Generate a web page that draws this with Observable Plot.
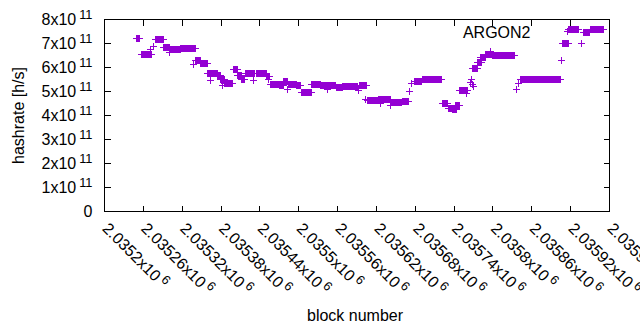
<!DOCTYPE html>
<html><head><meta charset="utf-8">
<script src="https://cdn.jsdelivr.net/npm/d3@7"></script>
<script src="https://cdn.jsdelivr.net/npm/@observablehq/plot@0.6"></script>
<style>
html,body{margin:0;padding:0;background:#fff;overflow:hidden;}
#chart svg{display:block;}
</style></head><body><div id="chart"></div>
<script>
// ---- data ----
const seriesName = "ARGON2";
const xLabel = "block number";
const yLabel = "hashrate [h/s]";
// runs of consecutive blocks that share the same hashrate (units of 1e11 h/s)
const runStart = [2035250,2035257,2035271,2035275,2035279,2035291,2035300,2035302,2035317,2035338,2035341,2035348,2035359,2035364,2035375,2035379,2035382,2035386,2035399,2035406,2035411,2035418,2035430,2035435,2035450,2035453,2035456,2035471,2035476,2035483,2035484,2035497,2035504,2035520,2035534,2035544,2035546,2035558,2035568,2035592,2035594,2035603,2035606,2035623,2035626,2035642,2035642,2035660,2035671,2035674,2035679,2035691,2035722,2035731,2035738,2035742,2035749,2035759,2035765,2035767,2035769,2035770,2035769,2035776,2035781,2035789,2035796,2035799,2035836,2035839,2035843,2035906,2035907,2035917,2035937,2035940,2035951];
const runEnd   = [2035254,2035273,2035271,2035275,2035291,2035301,2035300,2035317,2035340,2035338,2035348,2035359,2035374,2035364,2035379,2035386,2035382,2035398,2035406,2035412,2035416,2035432,2035430,2035450,2035455,2035453,2035471,2035476,2035483,2035483,2035497,2035502,2035519,2035533,2035545,2035544,2035557,2035567,2035590,2035592,2035605,2035603,2035622,2035641,2035626,2035642,2035659,2035669,2035671,2035674,2035690,2035721,2035730,2035741,2035744,2035748,2035761,2035759,2035765,2035767,2035769,2035770,2035776,2035782,2035789,2035798,2035796,2035834,2035836,2035839,2035904,2035906,2035916,2035932,2035937,2035949,2035971];
const runValue = [7.19,6.56,6.74,6.88,7.17,6.85,6.62,6.75,6.81,6.12,6.29,6.17,5.77,5.46,5.65,5.52,5.25,5.35,5.9,5.65,5.5,5.73,5.46,5.73,5.63,5.5,5.31,5.23,5.42,5.08,5.31,5.23,4.96,5.31,5.25,5.08,5.27,5.15,5.19,5.04,5.23,4.67,4.62,4.67,4.5,4.4,4.56,4.58,5.02,5.35,5.4,5.48,4.48,4.31,4.23,4.42,5.06,4.92,5.38,5.5,5.29,5.21,5.94,6.19,6.4,6.54,6.67,6.5,5.1,5.35,5.48,6.29,7.02,7.58,6.98,7.46,7.58];
const valueUnit = 1e11;

const xDomain = [2035200, 2035980];
const yDomain = [0, 8e11];
const xTicks = [2035200,2035260,2035320,2035380,2035440,2035500,2035560,2035620,2035680,2035740,2035800,2035860,2035920,2035980];
const xTickLabels = ["2.0352","2.03526","2.03532","2.03538","2.03544","2.0355","2.03556","2.03562","2.03568","2.03574","2.0358","2.03586","2.03592","2.03598"];
const xTickExponent = "6";
const yTicks = [0,1e11,2e11,3e11,4e11,5e11,6e11,7e11,8e11];
const yTickLabels = ["0","1","2","3","4","5","6","7","8"];
const yTickExponent = "11";

// ---- build point table (one point per block in each run) ----
const points = [];
runStart.forEach((s, i) => {
  for (let b = s; b <= runEnd[i]; b++) points.push({block: b, hashrate: runValue[i] * valueUnit});
});

const FONT = "Liberation Sans, Arial, sans-serif";
const FS = 16;
const COLOR = "#9400d3";

const plusSym = {draw(c){ const h = 3.5; c.moveTo(-h,0); c.lineTo(h,0); c.moveTo(0,-h); c.lineTo(0,h); }};
const tickRight = {draw(c){ c.moveTo(0,0); c.lineTo(6,0); }};
const tickLeft  = {draw(c){ c.moveTo(0,0); c.lineTo(-6,0); }};
const tickUp    = {draw(c){ c.moveTo(0,0); c.lineTo(0,-6); }};
const tickDown  = {draw(c){ c.moveTo(0,0); c.lineTo(0,6); }};

const tickOpts = {fill: "none", stroke: "black", strokeWidth: 1, shapeRendering: "crispEdges"};

const yText = (d, i) => i === 0 ? yTickLabels[i] : yTickLabels[i] + "x10";
const xText = (d, i) => xTickLabels[i] + "x10";

const chart = Plot.plot({
  width: 640, height: 330,
  marginLeft: 104, marginRight: 31, marginTop: 19, marginBottom: 119,
  x: {domain: xDomain, axis: null},
  y: {domain: yDomain, axis: null},
  style: {fontFamily: FONT, background: "#fff"},
  marks: [
    // inward ticks on all four sides
    Plot.dot(yTicks, {x: () => xDomain[0], y: d => d, symbol: tickRight, ...tickOpts}),
    Plot.dot(yTicks, {x: () => xDomain[1], y: d => d, symbol: tickLeft, ...tickOpts}),
    Plot.dot(xTicks, {x: d => d, y: () => yDomain[0], symbol: tickUp, ...tickOpts}),
    Plot.dot(xTicks, {x: d => d, y: () => yDomain[1], symbol: tickDown, ...tickOpts}),
    // data
    Plot.dot(points, {x: "block", y: "hashrate", symbol: plusSym, fill: "none", stroke: COLOR, strokeWidth: 1, shapeRendering: "crispEdges"}),
    // key
    Plot.text([seriesName], {x: () => xDomain[1], y: () => yDomain[1], dx: -79, dy: 13, textAnchor: "end", lineAnchor: "middle", fontSize: FS, fontFamily: FONT, fill: "black"}),
    Plot.dot([seriesName], {x: () => xDomain[1], y: () => yDomain[1], dx: -42, dy: 12, symbol: plusSym, fill: "none", stroke: COLOR, strokeWidth: 1, shapeRendering: "crispEdges"}),
    // y tick labels
    Plot.text(yTicks, {x: () => xDomain[0], y: d => d, text: yText, dx: -12, textAnchor: "end", lineAnchor: "middle", fontSize: FS, fontFamily: FONT, fill: "black"}),
    // x tick labels
    Plot.text(xTicks, {x: d => d, y: () => yDomain[0], text: xText, rotate: 45, dx: 5, dy: 10, textAnchor: "start", lineAnchor: "top", fontSize: FS, fontFamily: FONT, fill: "black"}),
    // axis titles
    Plot.text([yLabel], {x: () => xDomain[0], y: () => (yDomain[0] + yDomain[1]) / 2, dx: -86, rotate: -90, textAnchor: "middle", lineAnchor: "middle", fontSize: FS, fontFamily: FONT, fill: "black"}),
    Plot.text([xLabel], {x: () => (xDomain[0] + xDomain[1]) / 2, y: () => yDomain[0], dx: -2, dy: 104, textAnchor: "middle", lineAnchor: "middle", fontSize: FS, fontFamily: FONT, fill: "black"}),
    Plot.frame({stroke: "black", strokeWidth: 1})
  ]
});

// superscript exponents on tick labels
const xSet = new Set(xTickLabels.map(l => l + "x10"));
const ySet = new Set(yTickLabels.map(l => l + "x10"));
chart.querySelectorAll("text").forEach(t => {
  const s = t.textContent;
  let exp = null;
  if (xSet.has(s)) exp = xTickExponent;
  else if (ySet.has(s)) exp = yTickExponent;
  if (!exp) return;
  const ts = document.createElementNS("http://www.w3.org/2000/svg", "tspan");
  ts.setAttribute("dx", "3");
  ts.setAttribute("dy", "-0.45em");
  ts.setAttribute("font-size", "0.8em");
  ts.textContent = exp;
  t.appendChild(ts);
});

document.getElementById("chart").appendChild(chart);
</script>
</body></html>
